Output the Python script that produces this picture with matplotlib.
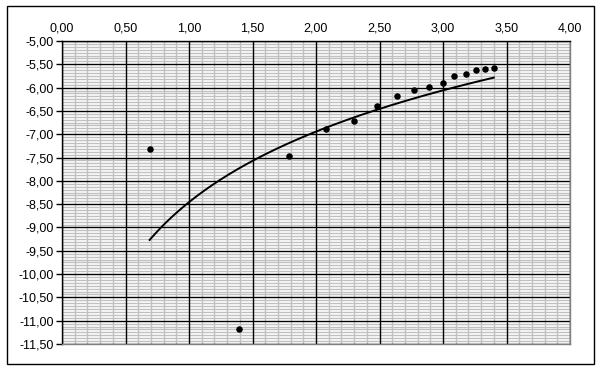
import numpy as np
import matplotlib
matplotlib.use("Agg")
import matplotlib.pyplot as plt
from matplotlib.patches import Rectangle
from matplotlib.ticker import MultipleLocator, FuncFormatter

x_vals = [0.69, 1.39, 1.79, 2.08, 2.30, 2.48, 2.64, 2.77, 2.89, 3.00, 3.09, 3.18, 3.26, 3.33, 3.40]
y_vals = [-7.32, -11.18, -7.47, -6.89, -6.72, -6.39, -6.18, -6.05, -5.99, -5.90,
          -5.75, -5.71, -5.62, -5.60, -5.58]

x_limits = (0.0, 4.0)
y_limits = (-11.5, -5.0)

plt.rcParams["font.family"] = ["Liberation Sans", "DejaVu Sans"]

W, H = 601, 370
fig = plt.figure(figsize=(W / 100, H / 100), dpi=100)
fig.patch.set_facecolor("white")

# outer chart border
fig.add_artist(Rectangle((6.5 / W, 1 - 363.5 / H), 587 / W, 358 / H,
                         transform=fig.transFigure, fill=False,
                         edgecolor="black", linewidth=1))

ax = fig.add_axes([62 / W, 1 - 344 / H, 508 / W, 303 / H])
ax.set_xlim(*x_limits)
ax.set_ylim(*y_limits)

ax.xaxis.set_major_locator(MultipleLocator(0.5))
ax.xaxis.set_minor_locator(MultipleLocator(0.1))
ax.yaxis.set_major_locator(MultipleLocator(0.5))
ax.yaxis.set_minor_locator(MultipleLocator(0.0625))

comma = FuncFormatter(lambda v, pos: f"{v:.2f}".replace(".", ",").replace("\u2212", "-"))
ax.xaxis.set_major_formatter(comma)
ax.yaxis.set_major_formatter(comma)

ax.xaxis.tick_top()
ax.tick_params(axis="x", which="both", length=0, pad=5, labelsize=9)
ax.tick_params(axis="y", which="major", length=4, width=1, direction="out",
               pad=2, labelsize=9)
ax.tick_params(axis="y", which="minor", length=0)

# minor grid from the axes, major grid drawn above it
ax.set_axisbelow(True)
ax.grid(which="minor", color="#c0c0c0", linewidth=1)
for xv in np.arange(x_limits[0], x_limits[1] + 0.01, 0.5):
    ax.axvline(xv, color="black", linewidth=1, zorder=2)
for yv in np.arange(y_limits[0], y_limits[1] + 0.01, 0.5):
    ax.axhline(yv, color="black", linewidth=1, zorder=2)

for side in ("top", "left"):
    ax.spines[side].set_color("black")
    ax.spines[side].set_linewidth(1)
    ax.spines[side].set_zorder(2.5)
for side in ("right", "bottom"):
    ax.spines[side].set_color("#808080")
    ax.spines[side].set_linewidth(1)
    ax.spines[side].set_zorder(2.5)

# logarithmic trendline fitted to the points
xs = np.array(x_vals)
ys = np.array(y_vals)
a, b = np.polyfit(np.log(xs), ys, 1)
xt = np.linspace(xs.min(), xs.max(), 200)
ax.plot(xt, a * np.log(xt) + b, color="black", linewidth=1.4, zorder=3)

ax.scatter(xs, ys, s=22, color="black", zorder=4, linewidths=0)

fig.savefig("out.png", dpi=100, facecolor="white")
